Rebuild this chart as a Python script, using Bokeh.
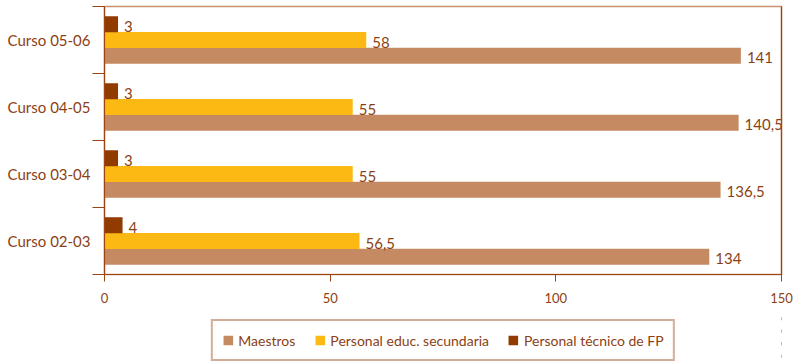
from bokeh.plotting import figure
from bokeh.layouts import column
from bokeh.models import (ColumnDataSource, Range1d, LinearAxis, FixedTicker, Legend, LegendItem)
from bokeh.transform import dodge
from bokeh.core.properties import value
from bokeh.embed import file_html
from bokeh.resources import INLINE

# ---- data ----
cursos = ["Curso 02-03", "Curso 03-04", "Curso 04-05", "Curso 05-06"]
maestros = [134, 136.5, 140.5, 141]
secundaria = [56.5, 55, 55, 58]
tecnico_fp = [4, 3, 3, 3]
series_names = ["Maestros", "Personal educ. secundaria", "Personal técnico de FP"]
x_ticks = [0, 50, 100, 150]

def fmt(v):
    return (f"{v:g}").replace(".", ",")

n = len(cursos)
centers = [i + 0.5 for i in range(n)]
bounds = list(range(n + 1))

src = ColumnDataSource(dict(
    pos=centers,
    maestros=maestros, secundaria=secundaria, tecnico=tecnico_fp,
    maestros_lbl=[fmt(v) for v in maestros],
    secundaria_lbl=[fmt(v) for v in secundaria],
    tecnico_lbl=[fmt(v) for v in tecnico_fp],
))

C_MAE = "#C68A63"
C_SEC = "#FDB913"
C_TEC = "#923B00"
C_TXT = "#8C3F14"
C_AX = "#9C4514"
C_TOP = "#C9926C"
FONT = "Lato"

p = figure(width=794, height=312, y_range=Range1d(0, n),
           x_range=Range1d(0, 150), x_axis_type=None, y_axis_type=None,
           output_backend="svg", toolbar_location=None,
           min_border_left=104, min_border_right=13, min_border_top=6, min_border_bottom=38,
           background_fill_color="white", border_fill_color="white")
p.outline_line_color = C_TOP
p.outline_line_width = 1.5

# bottom axis
xa = LinearAxis(ticker=FixedTicker(ticks=x_ticks))
xa.axis_line_color = C_AX
xa.axis_line_width = 1.2
xa.major_tick_line_color = C_AX
xa.major_tick_out = 7
xa.major_tick_in = 0
xa.minor_tick_line_color = None
xa.major_label_text_font = FONT
xa.major_label_text_font_size = "13px"
xa.major_label_text_color = C_TXT
xa.major_label_standoff = 11
p.add_layout(xa, "below")

# left boundary ticks axis (innermost)
ba = LinearAxis(ticker=FixedTicker(ticks=bounds))
ba.axis_line_color = C_AX
ba.axis_line_width = 1.2
ba.major_tick_line_color = C_AX
ba.major_tick_out = 12
ba.major_tick_in = 0
ba.minor_tick_line_color = None
ba.major_label_overrides = {b: "" for b in bounds}
ba.major_label_text_font_size = "1px"
ba.major_label_standoff = 0
p.add_layout(ba, "left")

# left category labels
ca = LinearAxis(ticker=FixedTicker(ticks=centers))
ca.major_label_overrides = {c: name for c, name in zip(centers, cursos)}
ca.axis_line_color = None
ca.major_tick_line_color = None
ca.minor_tick_line_color = None
ca.major_tick_out = 0
ca.major_tick_in = 0
ca.major_label_standoff = 2
ca.major_label_text_font = FONT
ca.major_label_text_font_size = "15px"
ca.major_label_text_color = C_TXT
p.add_layout(ca, "left")

# right border
ra = LinearAxis(ticker=FixedTicker(ticks=[]))
ra.axis_line_color = C_AX
ra.axis_line_width = 1.2
ra.major_tick_line_color = None
ra.minor_tick_line_color = None
ra.major_label_standoff = 0
ra.major_label_text_font_size = "1px"
p.add_layout(ra, "right")

H = 0.24
keys = ["maestros", "secundaria", "tecnico"]
offs = {"maestros": -0.235, "secundaria": 0.0, "tecnico": 0.235}
cols = {"maestros": C_MAE, "secundaria": C_SEC, "tecnico": C_TEC}
for key in keys:
    p.hbar(y=dodge("pos", offs[key], range=p.y_range), left=0, right=key,
           height=H, fill_color=cols[key], line_color=None, source=src)
    p.text(x=key, y=dodge("pos", offs[key], range=p.y_range), text=key + "_lbl",
           x_offset=6, y_offset=2, text_baseline="middle", text_align="left",
           text_font=value(FONT), text_font_size="15px", text_color=C_TXT, source=src)

# ---- legend strip (separate figure below the chart) ----
p2 = figure(width=794, height=50, y_range=Range1d(0, n), x_range=Range1d(-10, -5),
            x_axis_type=None, y_axis_type=None, output_backend="svg", toolbar_location=None,
            min_border_left=104, min_border_right=13, min_border_top=0, min_border_bottom=0,
            background_fill_color="white", border_fill_color="white")
p2.outline_line_color = None
lrends = {}
for key in keys:
    lrends[key] = p2.hbar(y="pos", left=0, right=key, height=H, fill_color=cols[key],
                          line_color=None, source=src)

legend = Legend(items=[LegendItem(label=series_names[i], renderers=[lrends[k]])
                       for i, k in enumerate(keys)],
                orientation="horizontal", location="bottom_center")
legend.glyph_width = 12
legend.glyph_height = 12
legend.label_standoff = 5
legend.spacing = 18
legend.padding = 9
legend.margin = 1
legend.label_height = 20
legend.label_text_font = FONT
legend.label_text_font_size = "14px"
legend.label_text_color = C_TXT
legend.border_line_color = "#A65C33"
legend.border_line_width = 2
legend.background_fill_color = "white"
p2.add_layout(legend, "center")

layout = column(p, p2, spacing=0)
open("out.html", "w").write(file_html(layout, INLINE))
